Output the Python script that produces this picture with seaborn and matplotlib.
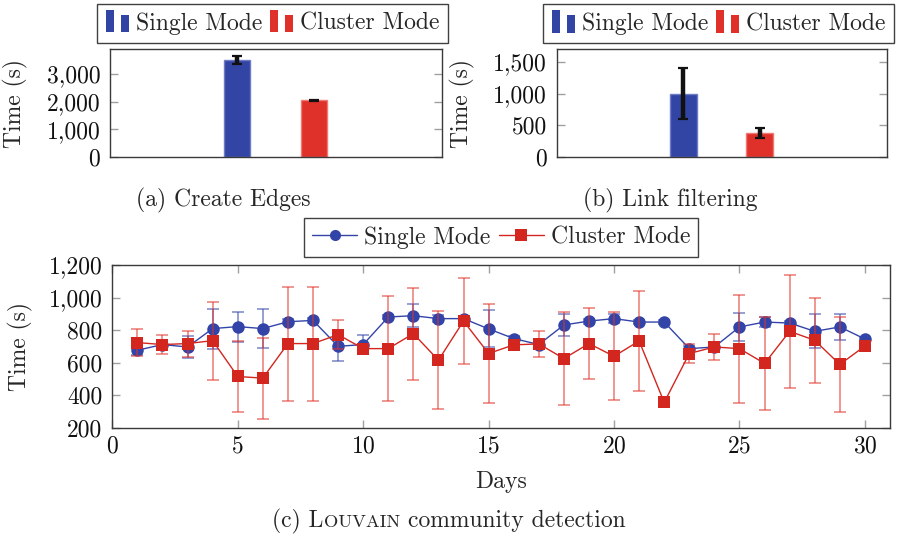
import numpy as np
import pandas as pd
import matplotlib
matplotlib.use("Agg")
import matplotlib.pyplot as plt
import seaborn as sns
from matplotlib.patches import Rectangle, Patch
from matplotlib.legend_handler import HandlerBase
from matplotlib.ticker import FuncFormatter, FixedLocator

# ---------------- data ----------------
modes = ["Single Mode", "Cluster Mode"]

edges_time = [3500, 2050]
edges_err = [150, 15]

link_time = [1000, 380]
link_err = [400, 80]

days = list(range(1, 31))
single_time = [677, 712, 697, 810, 822, 810, 852, 860, 701, 712,
               881, 889, 871, 871, 808, 749, 712, 832, 856, 871,
               850, 850, 687, 697, 820, 850, 844, 793, 820, 746]
single_err = [30, 30, 65, 123, 92, 121, 15, 15, 89, 60,
              15, 69, 20, 15, 114, 15, 15, 65, 15, 26,
              15, 15, 15, 15, 88, 30, 15, 105, 81, 15]
cluster_time = [724, 712, 718, 736, 516, 506, 718, 718, 773, 687,
                687, 779, 616, 856, 657, 710, 716, 626, 718, 640,
                734, 357, 657, 697, 687, 596, 793, 738, 590, 703]
cluster_err = [81, 61, 80, 240, 215, 249, 350, 350, 87, 15,
               324, 282, 302, 265, 302, 15, 79, 285, 217, 269,
               305, 0, 59, 79, 331, 287, 345, 261, 292, 10]

edges_ticks = [0, 1000, 2000, 3000]
link_ticks = [0, 500, 1000, 1500]
louvain_yticks = [200, 400, 600, 800, 1000, 1200]
louvain_xticks = [0, 5, 10, 15, 20, 25, 30]

# ---------------- style ----------------
sns.set_style("white")
plt.rcParams["font.family"] = ["cmr10", "DejaVu Serif"]
plt.rcParams["mathtext.fontset"] = "cm"
plt.rcParams["axes.unicode_minus"] = False
plt.rcParams["axes.formatter.use_mathtext"] = True

FS = 17
BLUE = "#3245a5"
RED = "#e0302a"
LBLUE = "#3344a8"
LRED = "#d2261f"
SPINE = "#3a3a3a"
TICK = "#a0a0a0"

fig = plt.figure(figsize=(9.01, 5.38), dpi=100)

W, H = 901.0, 538.0
def axes_px(l, t, r, b):
    return fig.add_axes([l / W, 1 - b / H, (r - l) / W, (b - t) / H])

ax1 = axes_px(110, 49, 442, 157)
ax2 = axes_px(556.7, 49.3, 887.3, 156.7)
ax3 = axes_px(112.3, 265, 890, 428)

thousands = FuncFormatter(lambda v, p: f"{int(round(v)):,}")


class TwoBarHandler(HandlerBase):
    def create_artists(self, legend, orig_handle, xdescent, ydescent,
                       width, height, fontsize, trans):
        fc = orig_handle.get_facecolor()
        bw = width * 0.36
        r1 = Rectangle((-xdescent, -ydescent - 0.15 * height), bw, height * 1.35,
                       facecolor=fc, edgecolor="none", transform=trans)
        r2 = Rectangle((-xdescent + width - bw, -ydescent - 0.15 * height), bw, height * 1.05,
                       facecolor=fc, edgecolor="none", transform=trans)
        return [r1, r2]


def style_axes(ax):
    for s in ax.spines.values():
        s.set_color(SPINE)
        s.set_linewidth(1.0)
        s.set_visible(True)
    ax.tick_params(axis="both", which="both", direction="in", color=TICK,
                   length=6, width=1.0, labelsize=FS, colors=TICK,
                   labelcolor="#111111")
    ax.yaxis.set_major_formatter(thousands)


def bar_panel(ax, task, times, errs, ymax, ticks, caption, cap_x):
    df = pd.DataFrame({"task": [task] * len(modes), "mode": modes, "time": times})
    sns.barplot(data=df, x="task", y="time", hue="mode", hue_order=modes,
                palette=[BLUE, RED], width=0.8, gap=0.65, errorbar=None,
                legend=False, ax=ax, saturation=1)
    bars = [p for p in ax.patches if isinstance(p, Rectangle)]
    for p, v, e, c in zip(bars, times, errs, ["#6f7cc4", "#ee7a72"]):
        p.set_edgecolor(c)
        p.set_linewidth(1.0)
        cx = p.get_x() + p.get_width() / 2
        ax.errorbar(cx, v, yerr=e, fmt="none", ecolor="#111111",
                    elinewidth=3.2, capsize=3.5, capthick=1.6, zorder=5)
    ax.set_xlim(-0.86, 0.865)
    ax.set_ylim(0, ymax)
    ax.yaxis.set_major_locator(FixedLocator(ticks))
    style_axes(ax)
    ax.tick_params(axis="x", which="both", bottom=False, top=False,
                   labelbottom=False)
    ax.tick_params(axis="y", left=True, right=True, pad=7)
    ax.set_xlabel("")
    ax.set_ylabel("Time (s)", fontsize=FS)
    ax.yaxis.set_label_coords(-0.247, 0.5)
    handles = [Patch(facecolor=BLUE), Patch(facecolor=RED)]
    leg = ax.legend(handles, modes, loc="lower center", bbox_to_anchor=(0.49, 1.055),
                    ncol=2, frameon=True, fancybox=False, fontsize=FS,
                    handler_map={Patch: TwoBarHandler()}, handlelength=1.0,
                    handleheight=0.7, handletextpad=0.3, columnspacing=0.3,
                    borderpad=0.35, borderaxespad=0)
    leg.get_frame().set_edgecolor("#111111")
    leg.get_frame().set_linewidth(1.0)
    fig.text(cap_x / W, 1 - 206 / H, caption, ha="center", va="baseline",
             fontsize=FS)


bar_panel(ax1, "Create Edges", edges_time, edges_err, 3900, edges_ticks,
          "(a) Create Edges", 223)
bar_panel(ax2, "Link filtering", link_time, link_err, 1700, link_ticks,
          "(b) Link filtering", 670)

# ---------------- Louvain line panel ----------------
df3 = pd.DataFrame({
    "day": days + days,
    "time": single_time + cluster_time,
    "mode": [modes[0]] * len(days) + [modes[1]] * len(days),
})

ax3.errorbar(days, single_time, yerr=single_err, fmt="none",
             ecolor=(0.20, 0.27, 0.66, 0.65), elinewidth=1.1, capsize=4,
             capthick=1.1, zorder=2)
sns.lineplot(data=df3[df3["mode"] == modes[0]], x="day", y="time",
             color=LBLUE, marker="o", markersize=9, markeredgewidth=0,
             linewidth=1.0, errorbar=None, ax=ax3, label=modes[0], zorder=3)
ax3.errorbar(days, cluster_time, yerr=cluster_err, fmt="none",
             ecolor=(0.88, 0.20, 0.17, 0.65), elinewidth=1.1, capsize=4,
             capthick=1.1, zorder=4)
sns.lineplot(data=df3[df3["mode"] == modes[1]], x="day", y="time",
             color=LRED, marker="s", markersize=9, markeredgewidth=0,
             linewidth=1.0, errorbar=None, ax=ax3, label=modes[1], zorder=5)

ax3.set_xlim(0, 31)
ax3.set_ylim(200, 1200)
ax3.xaxis.set_major_locator(FixedLocator(louvain_xticks))
ax3.yaxis.set_major_locator(FixedLocator(louvain_yticks))
style_axes(ax3)
ax3.tick_params(axis="x", bottom=True, top=True, pad=5)
ax3.tick_params(axis="y", left=True, right=True, pad=7)
ax3.set_xlabel("Days", fontsize=FS, labelpad=10)
ax3.set_ylabel("Time (s)", fontsize=FS)
ax3.yaxis.set_label_coords(-0.102, 0.5)

h, l = ax3.get_legend_handles_labels()
leg3 = ax3.legend(h, l, loc="lower center", bbox_to_anchor=(0.5, 1.05), ncol=2,
                  frameon=True, fancybox=False, fontsize=FS, handlelength=1.9,
                  handletextpad=0.3, columnspacing=0.35, borderpad=0.35,
                  borderaxespad=0, markerscale=1.0)
leg3.get_frame().set_edgecolor("#111111")
leg3.get_frame().set_linewidth(1.0)
for lh in leg3.legend_handles:
    lh.set_markersize(8)

# caption with small caps "Louvain"
renderer = fig.canvas.get_renderer()
pieces = [("(c) L", FS), ("OUVAIN", FS * 0.78), ("community detection", FS)]
gaps = [0, 0, 0.333 * FS * 100 / 72]
texts = []
widths = []
for s, fs in pieces:
    t = fig.text(0, 1 - 527 / H, s, fontsize=fs, ha="left", va="baseline")
    bb = t.get_window_extent(renderer)
    texts.append(t)
    widths.append(bb.width)
total = sum(widths) + sum(gaps)
x = 449 - total / 2
for t, w, g in zip(texts, widths, gaps):
    x += g
    t.set_x(x / W)
    x += w

fig.savefig("out.png", dpi=100)
